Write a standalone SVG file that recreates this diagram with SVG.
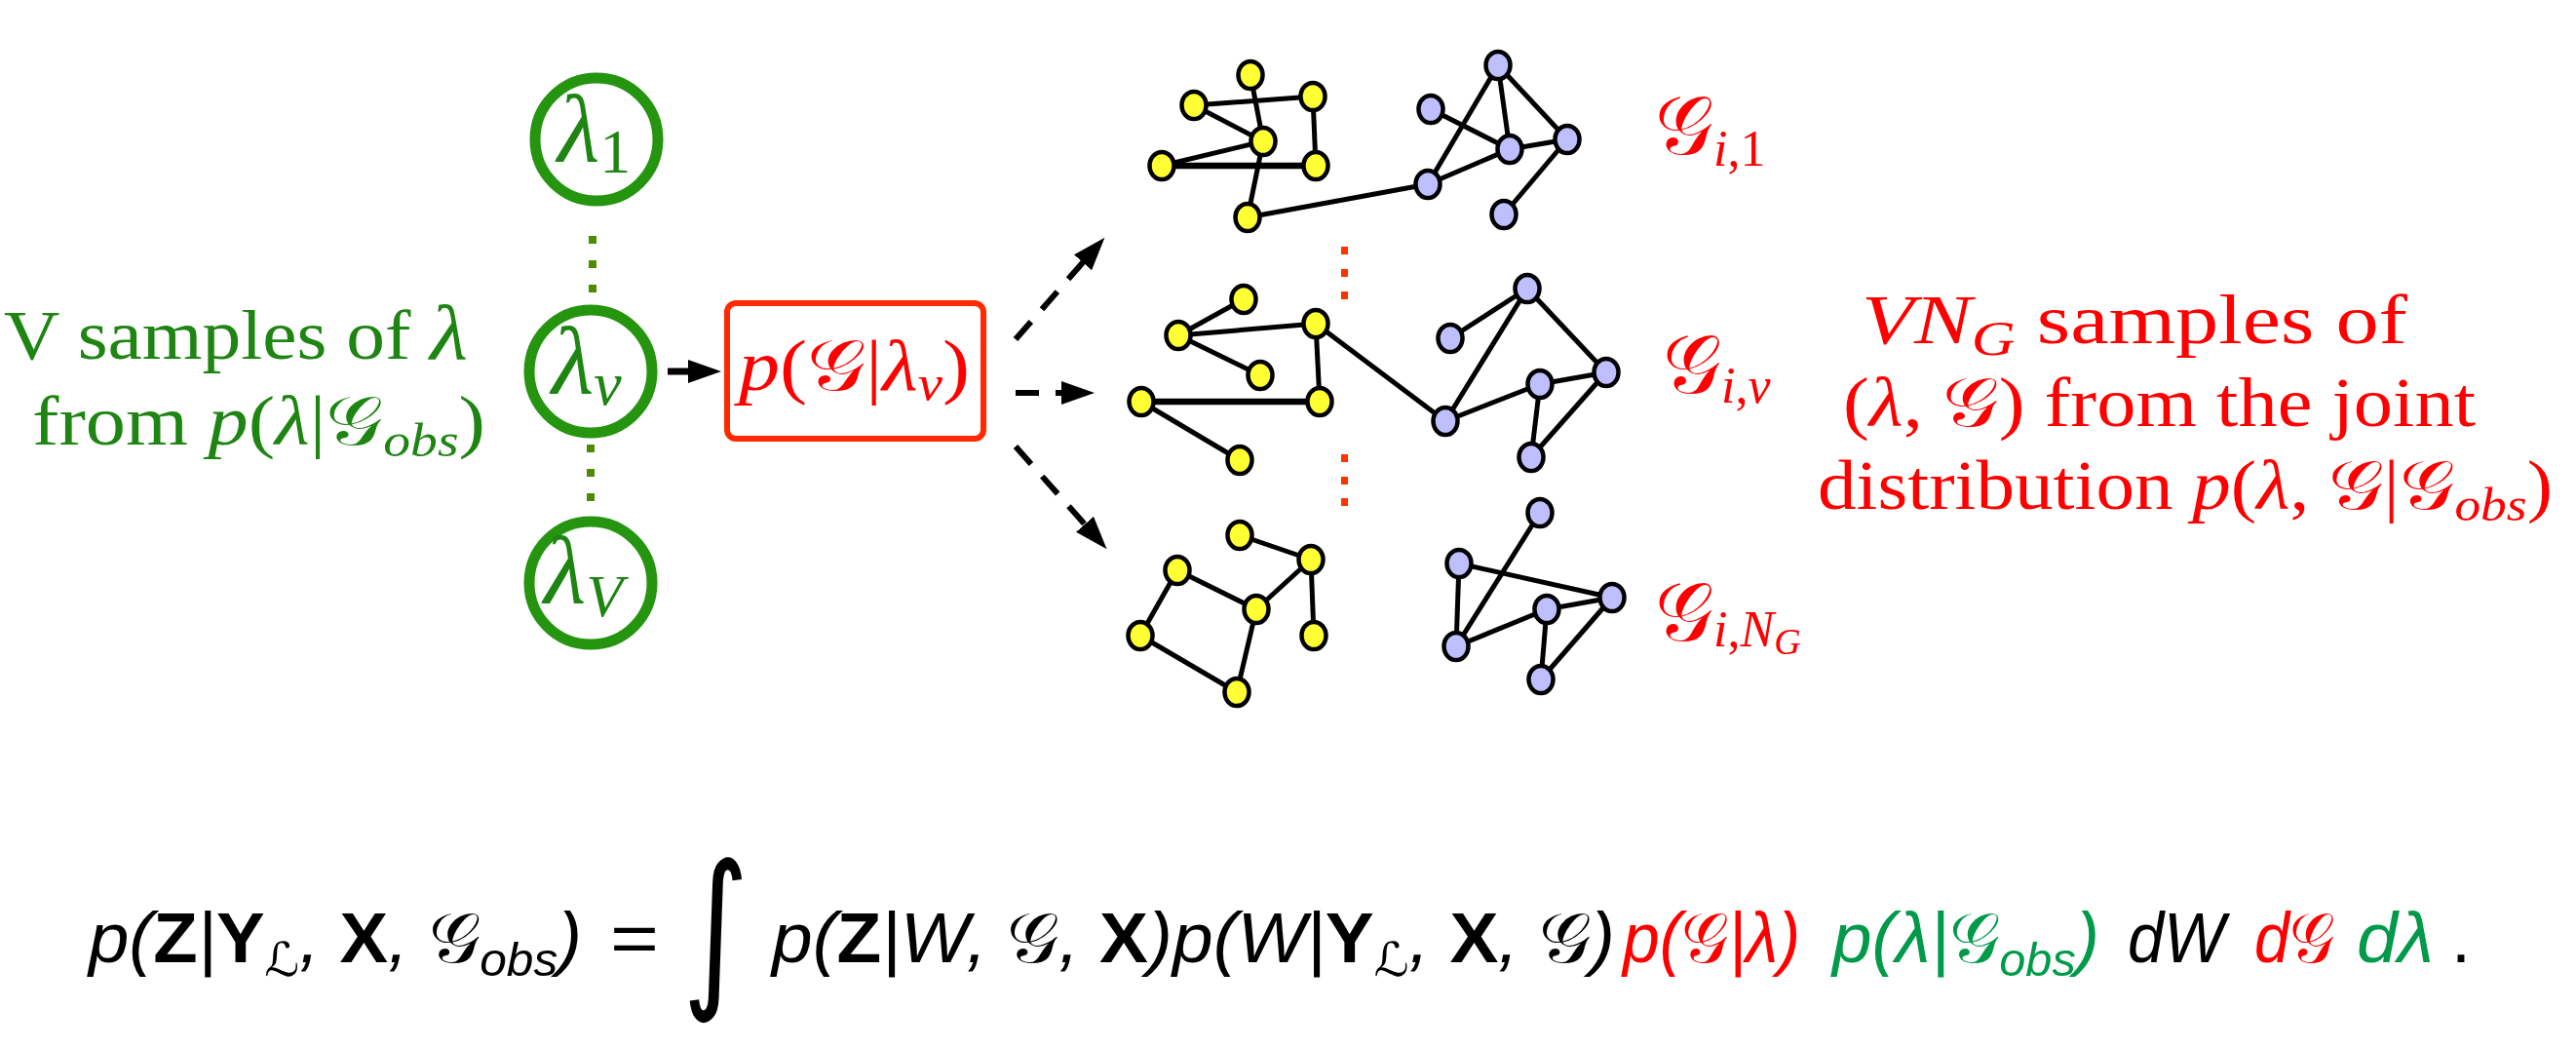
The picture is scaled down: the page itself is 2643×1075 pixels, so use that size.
<svg xmlns="http://www.w3.org/2000/svg" width="2643" height="1075" viewBox="0 0 2643 1075">
<style>
.cm{font-family:"Liberation Serif","DejaVu Serif",serif}
.it{font-style:italic}
.up{font-style:normal}
.cal{font-family:"DejaVu Serif","DejaVu Sans","Noto Sans",serif;font-style:normal}
.gtext{fill:#1e8512}
.rtext{fill:#ff0000}
.circ{fill:none;stroke:#259510;stroke-width:11}
.gdot{fill:#4f8a00}
.rdot{fill:#ff3300}
.box{fill:none;stroke:#ff2a00;stroke-width:6}
.edge{stroke:#000;stroke-width:5;fill:none}
.thick{stroke-width:6.5}
.yn{fill:#ffff33;stroke:#000;stroke-width:4.5}
.bn{fill:#bfbfff;stroke:#000;stroke-width:4.5}
.arr{stroke:#000;stroke-width:7;fill:none}
.dash{stroke:#000;stroke-width:6;fill:none;stroke-dasharray:24 17}
.eq{font-family:"Liberation Sans","DejaVu Sans",sans-serif;font-style:italic;font-size:72px}
.bf{font-weight:bold;font-style:normal}
.sub{font-size:48px}
.ek{fill:#000}
.er{fill:#ff0000}
.eg{fill:#009a4a}
</style>
<defs>
<marker id="ah" markerUnits="userSpaceOnUse" markerWidth="36" markerHeight="26" refX="3" refY="13" orient="auto" viewBox="0 0 36 26">
<path d="M0,1 L34,13 L0,25 Z" fill="#000"/>
</marker>
</defs>

<g id="connectors">
<line class="arr" x1="685" y1="381" x2="709" y2="381" marker-end="url(#ah)"/>
<line class="dash" x1="1042" y1="348" x2="1113" y2="267" marker-end="url(#ah)"/>
<line class="dash" x1="1042" y1="403" x2="1092" y2="403" marker-end="url(#ah)"/>
<line class="dash" x1="1042" y1="458" x2="1115" y2="540" marker-end="url(#ah)"/>
<g id="green-dots">
<rect class="gdot" x="604" y="242" width="8" height="8"/>
<rect class="gdot" x="604" y="267" width="8" height="8"/>
<rect class="gdot" x="604" y="292" width="8" height="8"/>
<rect class="gdot" x="602" y="456" width="8" height="8"/>
<rect class="gdot" x="602" y="481" width="8" height="8"/>
<rect class="gdot" x="602" y="506" width="8" height="8"/>
</g>
<g id="red-dots">
<rect class="rdot" x="1376" y="253" width="7" height="8"/>
<rect class="rdot" x="1376" y="276" width="7" height="8"/>
<rect class="rdot" x="1376" y="299" width="7" height="8"/>
<rect class="rdot" x="1376" y="466" width="7" height="8"/>
<rect class="rdot" x="1376" y="489" width="7" height="8"/>
<rect class="rdot" x="1376" y="511" width="7" height="8"/>
</g>
</g>

<g id="left-label" class="cm gtext" font-size="71">
<text x="4" y="368" textLength="476" lengthAdjust="spacingAndGlyphs">V samples of <tspan class="it" font-size="80">λ</tspan></text>
<text x="33" y="456" textLength="465" lengthAdjust="spacingAndGlyphs">from <tspan class="it">p</tspan>(<tspan class="it">λ</tspan>|<tspan class="cal">𝒢</tspan><tspan class="it" font-size="48" dy="12">obs</tspan><tspan dy="-12">)</tspan></text>
</g>

<g id="lambda1">
<circle class="circ" cx="612" cy="143" r="63"/>
<text class="cm gtext" x="572" y="166" font-size="100"><tspan class="it">λ</tspan><tspan font-size="64" dy="11">1</tspan></text>
</g>
<g id="lambdav">
<circle class="circ" cx="606" cy="381" r="63"/>
<text class="cm gtext" x="566" y="404" font-size="100"><tspan class="it">λ</tspan><tspan class="it" font-size="64" dy="11">v</tspan></text>
</g>
<g id="lambdaV">
<circle class="circ" cx="606" cy="598" r="63"/>
<text class="cm gtext" x="558" y="619" font-size="100"><tspan class="it">λ</tspan><tspan class="it" font-size="62" dy="13">V</tspan></text>
</g>

<g id="pbox">
<rect class="box" x="746" y="311" width="263" height="139" rx="9"/>
<text class="cm rtext" x="758" y="400" font-size="74" textLength="237" lengthAdjust="spacingAndGlyphs"><tspan class="it">p</tspan>(<tspan class="cal">𝒢</tspan>|<tspan class="it">λ</tspan><tspan class="it" font-size="50" dy="10">v</tspan><tspan dy="-10">)</tspan></text>
</g>

<g id="graph1">
<g class="edge">
<line x1="1283" y1="77" x2="1296" y2="145"/>
<line x1="1296" y1="145" x2="1280" y2="223"/>
<line x1="1225" y1="108" x2="1347" y2="99"/>
<line x1="1225" y1="108" x2="1296" y2="145"/>
<line x1="1347" y1="99" x2="1350" y2="170"/>
<line x1="1192" y1="170" x2="1296" y2="145"/>
<line class="thick" x1="1192" y1="170" x2="1350" y2="170"/>
<line x1="1280" y1="223" x2="1465" y2="189"/>
<line x1="1465" y1="189" x2="1537" y2="67"/>
<line x1="1465" y1="189" x2="1549" y2="153"/>
<line x1="1468" y1="112" x2="1549" y2="153"/>
<line x1="1537" y1="67" x2="1549" y2="153"/>
<line x1="1537" y1="67" x2="1608" y2="143"/>
<line x1="1549" y1="153" x2="1608" y2="143"/>
<line x1="1608" y1="143" x2="1543" y2="220"/>
</g>
<ellipse class="yn" cx="1283" cy="77" rx="12.5" ry="14"/>
<ellipse class="yn" cx="1225" cy="108" rx="12.5" ry="14"/>
<ellipse class="yn" cx="1347" cy="99" rx="12.5" ry="14"/>
<ellipse class="yn" cx="1296" cy="145" rx="12.5" ry="14"/>
<ellipse class="yn" cx="1192" cy="170" rx="12.5" ry="14"/>
<ellipse class="yn" cx="1350" cy="170" rx="12.5" ry="14"/>
<ellipse class="yn" cx="1280" cy="223" rx="12.5" ry="14"/>
<ellipse class="bn" cx="1537" cy="67" rx="12.5" ry="14"/>
<ellipse class="bn" cx="1468" cy="112" rx="12.5" ry="14"/>
<ellipse class="bn" cx="1549" cy="153" rx="12.5" ry="14"/>
<ellipse class="bn" cx="1608" cy="143" rx="12.5" ry="14"/>
<ellipse class="bn" cx="1465" cy="189" rx="12.5" ry="14"/>
<ellipse class="bn" cx="1543" cy="220" rx="12.5" ry="14"/>
<text class="cm rtext" x="1698" y="158" font-size="84"><tspan class="cal">𝒢</tspan><tspan class="it" font-size="52" dy="12">i</tspan><tspan font-size="52">,1</tspan></text>
</g>

<g id="graph2">
<g class="edge">
<line x1="1209" y1="344" x2="1276" y2="307"/>
<line x1="1209" y1="344" x2="1350" y2="332"/>
<line x1="1209" y1="344" x2="1293" y2="385"/>
<line x1="1350" y1="332" x2="1354" y2="412"/>
<line x1="1350" y1="332" x2="1483" y2="432"/>
<line class="thick" x1="1171" y1="412" x2="1354" y2="412"/>
<line x1="1171" y1="412" x2="1272" y2="472"/>
<line x1="1488" y1="347" x2="1567" y2="296"/>
<line x1="1567" y1="296" x2="1483" y2="432"/>
<line x1="1567" y1="296" x2="1648" y2="382"/>
<line x1="1483" y1="432" x2="1580" y2="394"/>
<line x1="1580" y1="394" x2="1648" y2="382"/>
<line x1="1580" y1="394" x2="1571" y2="469"/>
<line x1="1571" y1="469" x2="1648" y2="382"/>
</g>
<ellipse class="yn" cx="1276" cy="307" rx="12.5" ry="14"/>
<ellipse class="yn" cx="1209" cy="344" rx="12.5" ry="14"/>
<ellipse class="yn" cx="1350" cy="332" rx="12.5" ry="14"/>
<ellipse class="yn" cx="1293" cy="385" rx="12.5" ry="14"/>
<ellipse class="yn" cx="1171" cy="412" rx="12.5" ry="14"/>
<ellipse class="yn" cx="1354" cy="412" rx="12.5" ry="14"/>
<ellipse class="yn" cx="1272" cy="472" rx="12.5" ry="14"/>
<ellipse class="bn" cx="1567" cy="296" rx="12.5" ry="14"/>
<ellipse class="bn" cx="1488" cy="347" rx="12.5" ry="14"/>
<ellipse class="bn" cx="1648" cy="382" rx="12.5" ry="14"/>
<ellipse class="bn" cx="1580" cy="394" rx="12.5" ry="14"/>
<ellipse class="bn" cx="1483" cy="432" rx="12.5" ry="14"/>
<ellipse class="bn" cx="1571" cy="469" rx="12.5" ry="14"/>
<text class="cm rtext" x="1706" y="403" font-size="84"><tspan class="cal">𝒢</tspan><tspan class="it" font-size="52" dy="10">i</tspan><tspan font-size="52">,</tspan><tspan class="it" font-size="52">v</tspan></text>
</g>

<g id="graph3">
<g class="edge">
<line x1="1272" y1="549" x2="1345" y2="574"/>
<line x1="1345" y1="574" x2="1289" y2="625"/>
<line x1="1345" y1="574" x2="1348" y2="652"/>
<line x1="1208" y1="585" x2="1289" y2="625"/>
<line x1="1208" y1="585" x2="1170" y2="652"/>
<line x1="1289" y1="625" x2="1269" y2="710"/>
<line x1="1170" y1="652" x2="1269" y2="710"/>
<line x1="1580" y1="526" x2="1494" y2="663"/>
<line x1="1497" y1="578" x2="1654" y2="613"/>
<line x1="1497" y1="578" x2="1494" y2="663"/>
<line x1="1494" y1="663" x2="1587" y2="625"/>
<line x1="1587" y1="625" x2="1654" y2="613"/>
<line x1="1587" y1="625" x2="1581" y2="697"/>
<line x1="1581" y1="697" x2="1654" y2="613"/>
</g>
<ellipse class="yn" cx="1272" cy="549" rx="12.5" ry="14"/>
<ellipse class="yn" cx="1345" cy="574" rx="12.5" ry="14"/>
<ellipse class="yn" cx="1208" cy="585" rx="12.5" ry="14"/>
<ellipse class="yn" cx="1289" cy="625" rx="12.5" ry="14"/>
<ellipse class="yn" cx="1170" cy="652" rx="12.5" ry="14"/>
<ellipse class="yn" cx="1348" cy="652" rx="12.5" ry="14"/>
<ellipse class="yn" cx="1269" cy="710" rx="12.5" ry="14"/>
<ellipse class="bn" cx="1580" cy="526" rx="12.5" ry="14"/>
<ellipse class="bn" cx="1497" cy="578" rx="12.5" ry="14"/>
<ellipse class="bn" cx="1654" cy="613" rx="12.5" ry="14"/>
<ellipse class="bn" cx="1587" cy="625" rx="12.5" ry="14"/>
<ellipse class="bn" cx="1494" cy="663" rx="12.5" ry="14"/>
<ellipse class="bn" cx="1581" cy="697" rx="12.5" ry="14"/>
<text class="cm rtext" x="1698" y="657" font-size="84"><tspan class="cal">𝒢</tspan><tspan class="it" font-size="52" dy="6">i</tspan><tspan font-size="52">,</tspan><tspan class="it" font-size="52">N</tspan><tspan class="it" font-size="38" dy="8">G</tspan></text>
</g>

<g id="right-label" class="cm rtext" font-size="71">
<text x="1910" y="352" textLength="560" lengthAdjust="spacingAndGlyphs"><tspan class="it">VN</tspan><tspan class="it" font-size="50" dy="12">G</tspan><tspan dy="-12"> samples of</tspan></text>
<text x="1891" y="437" textLength="649" lengthAdjust="spacingAndGlyphs">(<tspan class="it">λ</tspan>, <tspan class="cal">𝒢</tspan>)  from the joint</text>
<text x="1865" y="522" textLength="754" lengthAdjust="spacingAndGlyphs">distribution <tspan class="it">p</tspan>(<tspan class="it">λ</tspan>, <tspan class="cal">𝒢</tspan>|<tspan class="cal">𝒢</tspan><tspan class="it" font-size="48" dy="12">obs</tspan><tspan dy="-12">)</tspan></text>
</g>

<g id="equation" class="eq">
<text class="ek" x="91" y="987" textLength="506" lengthAdjust="spacingAndGlyphs">p(<tspan class="bf">Z</tspan>|<tspan class="bf">Y</tspan><tspan class="sub cal" dy="14">ℒ</tspan><tspan dy="-14">, </tspan><tspan class="bf">X</tspan>, <tspan class="cal">𝒢</tspan><tspan class="sub" dy="14">obs</tspan><tspan dy="-14">)</tspan></text>
<text class="ek" x="626" y="987" font-style="normal" textLength="50" lengthAdjust="spacingAndGlyphs">=</text>
<text class="ek" transform="translate(700,1012) scale(0.75,1)" x="0" y="0" font-family="DejaVu Sans" font-style="normal" font-size="175">∫</text>
<text class="ek" x="792" y="987" textLength="865" lengthAdjust="spacingAndGlyphs">p(<tspan class="bf">Z</tspan>|W, <tspan class="cal">𝒢</tspan>, <tspan class="bf">X</tspan>)p(W|<tspan class="bf">Y</tspan><tspan class="sub cal" dy="14">ℒ</tspan><tspan dy="-14">, </tspan><tspan class="bf">X</tspan>, <tspan class="cal">𝒢</tspan>)</text>
<text class="er" x="1665" y="987" textLength="182" lengthAdjust="spacingAndGlyphs">p(<tspan class="cal">𝒢</tspan>|λ)</text>
<text class="eg" x="1880" y="987" textLength="274" lengthAdjust="spacingAndGlyphs">p(λ|<tspan class="cal">𝒢</tspan><tspan class="sub" dy="14">obs</tspan><tspan dy="-14">)</tspan></text>
<text class="ek" x="2183" y="987" textLength="100" lengthAdjust="spacingAndGlyphs">dW</text>
<text class="er" x="2313" y="987" textLength="82" lengthAdjust="spacingAndGlyphs">d<tspan class="cal">𝒢</tspan></text>
<text class="eg" x="2418" y="987" textLength="79" lengthAdjust="spacingAndGlyphs">dλ</text>
<text class="ek" x="2515" y="987" font-style="normal">.</text>
</g>
</svg>
